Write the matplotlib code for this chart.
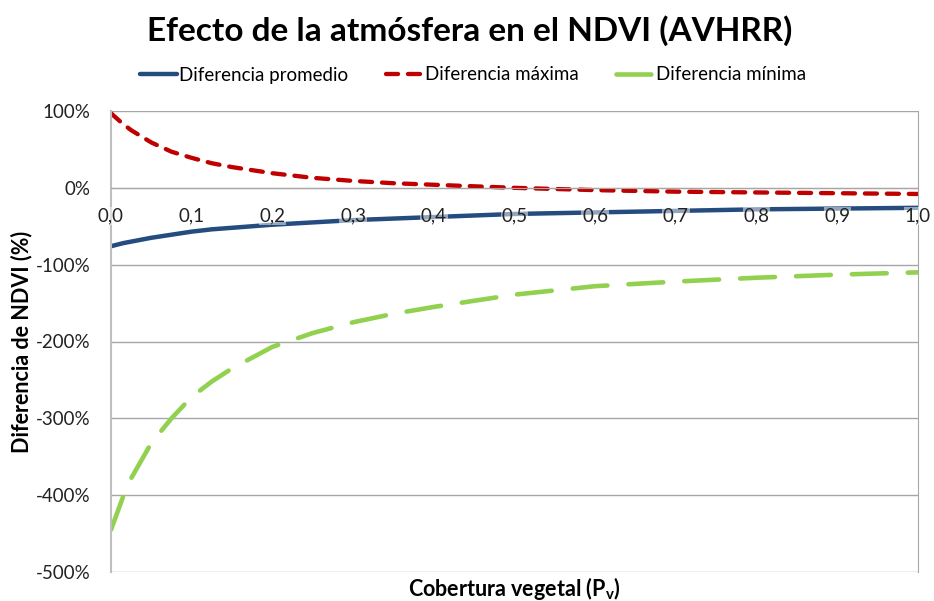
import matplotlib
matplotlib.use('Agg')
import matplotlib.pyplot as plt

plt.rcParams['font.family'] = ['Lato', 'DejaVu Sans']

# values (in %)
cobertura = [0.0, 0.015, 0.025, 0.05, 0.075, 0.1, 0.125, 0.15, 0.2, 0.25, 0.3, 0.35, 0.4,
             0.5, 0.6, 0.7, 0.8, 0.9, 1.0]
dif_promedio = [-76, -72, -70, -65, -61, -57, -54, -52, -48, -45, -42, -40, -38,
                -34, -32, -30, -28, -27, -26]
dif_maxima = [97, 83, 75, 59, 47, 39, 32, 27, 19, 13, 9, 6, 4,
              0, -3, -5, -6, -7, -8]
dif_minima = [-445, -402, -378, -332, -300, -272, -252, -235, -207, -189, -175, -164, -155,
              -139, -128, -122, -117, -113, -110]

x_ticks = [0.0, 0.1, 0.2, 0.3, 0.4, 0.5, 0.6, 0.7, 0.8, 0.9, 1.0]
x_ticklabels = ['0,0', '0,1', '0,2', '0,3', '0,4', '0,5', '0,6', '0,7', '0,8', '0,9', '1,0']
y_ticks = [100, 0, -100, -200, -300, -400, -500]
y_ticklabels = ['100%', '0%', '-100%', '-200%', '-300%', '-400%', '-500%']

fig = plt.figure(figsize=(9.34, 6.01), dpi=100)
ax = fig.add_axes([111/934, 29/601, 807/934, 461/601])

# x axis crosses at 0 (set first: it resets the ticks)
ax.spines['bottom'].set_position(('data', 0))
ax.spines['bottom'].set_color('#A6A6A6')
ax.spines['left'].set_color('#BFBFBF')
ax.spines['left'].set_linewidth(1.5)
ax.spines['right'].set_color('#A6A6A6')
ax.spines['top'].set_visible(False)

ax.plot(cobertura, dif_promedio, color='#254C7F', lw=3.2, label='Diferencia promedio',
        solid_capstyle='round', zorder=2)
ax.plot(cobertura, dif_maxima, color='#C00000', lw=3.1, label='Diferencia máxima',
        dashes=(2.8, 2.3), dash_capstyle='round', zorder=2)
ax.plot(cobertura, dif_minima, color='#92D050', lw=3.3, label='Diferencia mínima',
        dashes=(7.6, 4.6), dash_capstyle='round', zorder=2)

ax.set_xlim(0, 1)
ax.set_ylim(-500, 100)
ax.set_xticks(x_ticks)
ax.set_xticklabels(x_ticklabels)
ax.set_yticks(y_ticks)
ax.set_yticklabels(y_ticklabels)
ax.tick_params(axis='x', length=0, pad=14, labelsize=13.5, labelcolor='#222222')
ax.tick_params(axis='y', length=0, pad=15, labelsize=13.5, labelcolor='#222222')

ax.grid(axis='y', color='#A6A6A6', lw=1.0)
ax.set_axisbelow(True)
ax.xaxis.set_zorder(3)
for t in ax.get_xticklabels():
    t.set_bbox(dict(facecolor='white', edgecolor='none', alpha=0.5, pad=0.5))

ax.set_ylabel('Diferencia de NDVI (%)', fontsize=15.5, fontweight='bold', labelpad=2)
fig.text(514/934, 1 - 588/601, 'Cobertura vegetal (P$_\\mathregular{v}$)', fontsize=15.5,
         fontweight='bold', ha='center', va='center')

fig.text(0.503, 1 - 31/601, 'Efecto de la atmósfera en el NDVI (AVHRR)', fontsize=24,
         fontweight='bold', ha='center', va='center')

fig.legend(loc='center', bbox_to_anchor=(0.506, 1 - 75/601), ncol=3, frameon=False,
           fontsize=13.5, handlelength=2.0, handletextpad=0.1, columnspacing=2.0)

fig.savefig('out.png', dpi=100)
